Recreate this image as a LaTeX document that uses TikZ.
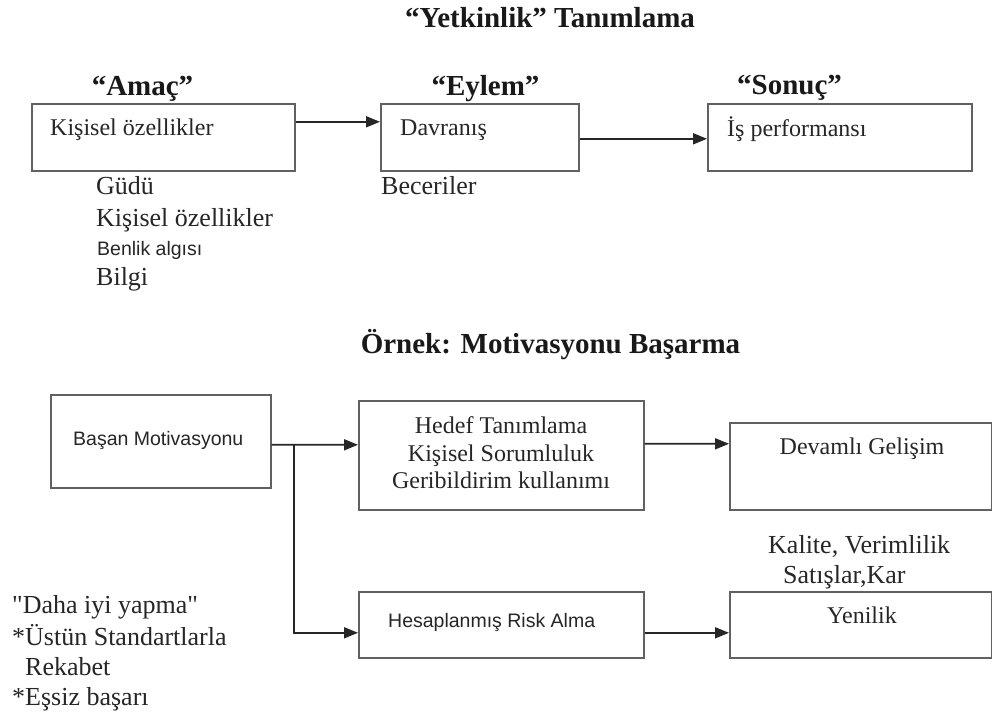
\documentclass[tikz,border=0pt]{standalone}
\usepackage{fontspec}
\setmainfont{Liberation Serif}
\setsansfont{Liberation Sans}
\usetikzlibrary{arrows.meta}
\begin{document}
\begin{tikzpicture}[x=1bp,y=-1bp,
  box/.style={draw=black!62, line width=1.6bp, rectangle, inner sep=0pt, anchor=north west},
  conn/.style={draw=black!85, line width=1.8bp, -{Triangle[length=14bp,width=11bp]}},
  ttl/.style={font=\fontsize{29bp}{32bp}\selectfont\bfseries, text=black!90, inner sep=0pt, anchor=base},
  txt/.style={font=\fontsize{24bp}{28bp}\selectfont, text=black!85, inner sep=0pt, anchor=base west},
  ctxt/.style={txt, anchor=base},
  lst/.style={font=\fontsize{26bp}{30bp}\selectfont, text=black!85, inner sep=0pt, anchor=base west},
  sns/.style={font=\sffamily\fontsize{19.5bp}{22bp}\selectfont, text=black!85, inner sep=0pt, anchor=base west},
]
\fill[white] (0,0) rectangle (992,717);
\useasboundingbox (0,0) rectangle (992,717);

% ---------- upper part: competency definition ----------
\node[ttl] (title1) at (550,28) {“Yetkinlik” Tanımlama};

\node[ttl] (lamac)  at (142.5,96) {“Amaç”};
\node[ttl] (leylem) at (485.5,96) {“Eylem”};
\node[ttl] (lsonuc) at (789.5,95) {“Sonuç”};

\node[box, minimum width=263bp, minimum height=67bp] (b1) at (31,103) {};
\node[box, minimum width=198bp, minimum height=67bp] (b2) at (380,103) {};
\node[box, minimum width=264bp, minimum height=67bp] (b3) at (707,103) {};

\node[txt] (t1) at (50,136)  {Kişisel özellikler};
\node[txt] (t2) at (400,136) {Davranış};
\node[txt] (t3) at (727,137) {İş performansı};

\draw[conn] ([yshift=15.5bp]b1.east) -- ([yshift=15.5bp]b2.west);
\draw[conn] ([yshift=-1.5bp]b2.east) -- ([yshift=-1.5bp]b3.west);

\node[lst] (g1) at (96,195) {Güdü};
\node[lst] (g2) at (96,226) {Kişisel özellikler};
\node[sns] (g3) at (97,255) {Benlik algısı};
\node[lst] (g4) at (96,285) {Bilgi};
\node[lst] (bec) at (381,195) {Beceriler};

% ---------- lower part: achievement motivation example ----------
\node[ttl] (title2) at (550.5,353) {Örnek: Motivasyonu Başarma};

\node[box, minimum width=220bp, minimum height=93bp]  (A) at (50,394) {};
\node[box, minimum width=285bp, minimum height=109bp] (B) at (358,400) {};
\node[box, minimum width=262bp, minimum height=87bp]  (C) at (729,422) {};
\node[box, minimum width=285bp, minimum height=66bp]  (D) at (358,591) {};
\node[box, minimum width=262bp, minimum height=66bp]  (E) at (729,591) {};

\node[sns] (tA) at (73,445) {Başan Motivasyonu};
\node[ctxt] (tB1) at (501,433) {Hedef Tanımlama};
\node[ctxt] (tB2) at (501,461) {Kişisel Sorumluluk};
\node[ctxt] (tB3) at (501,488) {Geribildirim kullanımı};
\node[ctxt] (tC) at (862,454) {Devamlı Gelişim};
\node[sns] (tD) at (388,627) {Hesaplanmış Risk Alma};
\node[ctxt] (tE) at (862,623) {Yenilik};

\node[lst] (k1) at (768,553) {Kalite, Verimlilik};
\node[lst] (k2) at (783,583) {Satışlar,Kar};

\coordinate (j) at ([xshift=22bp,yshift=-3.5bp]A.east);
\draw[conn] ([yshift=-3.5bp]A.east) -- ([yshift=10.5bp]B.west);
\draw[conn] (j) |- ([yshift=-8bp]D.west);
\draw[conn] ([yshift=11.5bp]B.east) -- ([yshift=22.5bp]C.west);
\draw[conn] ([yshift=-8bp]D.east) -- ([yshift=-8bp]E.west);

\node[lst] (d1) at (12,613) {\textquotedbl Daha iyi yapma\textquotedbl};
\node[lst] (d2) at (12,645) {*Üstün Standartlarla};
\node[lst] (d3) at (25,675) {Rekabet};
\node[lst] (d4) at (12,705) {*Eşsiz başarı};
\end{tikzpicture}
\end{document}
